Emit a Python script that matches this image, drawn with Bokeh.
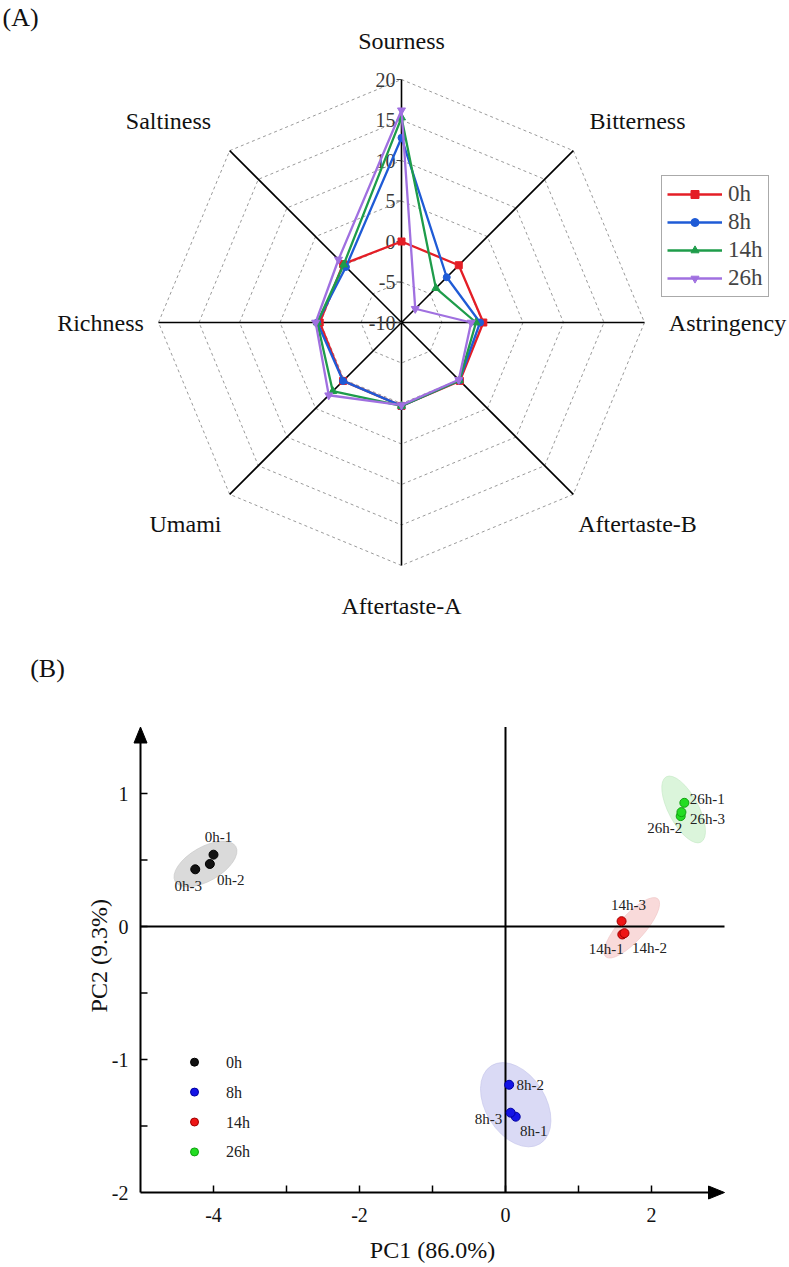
import numpy as np
from bokeh.plotting import figure
from bokeh.models import Range1d, ColumnDataSource
from bokeh.layouts import column
from bokeh.core.properties import value
from bokeh.embed import file_html
from bokeh.resources import INLINE

# ---------------- (A) electronic-tongue radar data ----------------
attributes = ["Sourness", "Bitterness", "Astringency", "Aftertaste-B",
              "Aftertaste-A", "Umami", "Richness", "Saltiness"]
hours = ["0h", "8h", "14h", "26h"]
taste_0h = [0.0, 0.0, 0.1, 0.2, 0.3, 0.2, 0.1, 0.2]
taste_8h = [12.8, -2.1, -0.3, 0.1, 0.3, 0.2, 0.4, -0.3]
taste_14h = [15.3, -4.0, -0.8, 0.1, 0.3, 2.0, 0.4, 0.1]
taste_26h = [16.2, -7.6, -1.4, 0.0, 0.2, 2.7, 0.6, 1.0]
radial_ticks = [-10, -5, 0, 5, 10, 15, 20]

# ---------------- (B) PCA data ----------------
pca_labels = ["0h-1", "0h-2", "0h-3", "8h-1", "8h-2", "8h-3",
              "14h-1", "14h-2", "14h-3", "26h-1", "26h-2", "26h-3"]
pca_group = ["0h"] * 3 + ["8h"] * 3 + ["14h"] * 3 + ["26h"] * 3
pc1 = [-4.00, -4.05, -4.25, 0.14, 0.05, 0.07, 1.60, 1.63, 1.59, 2.45, 2.40, 2.41]
pc2 = [0.54, 0.47, 0.43, -1.43, -1.19, -1.40, -0.06, -0.05, 0.04, 0.93, 0.83, 0.86]
ellipse_pc1 = [-4.11, 0.14, 1.73, 2.44]
ellipse_pc2 = [0.47, -1.34, -0.01, 0.88]
ellipse_major_px = [70, 92, 78, 74]
ellipse_minor_px = [34, 60, 26, 30]
ellipse_angle_deg = [30, -58, 48, -62]
x_ticks = [-4, -3, -2, -1, 0, 1, 2]
x_tick_labels = ["-4", "-2", "0", "2"]
x_tick_label_pos = [-4, -2, 0, 2]
y_ticks = [1, 0.5, 0, -0.5, -1, -1.5]
y_tick_labels = ["1", "0", "-1", "-2"]
y_tick_label_pos = [1, 0, -1, -2]
x_title = "PC1 (86.0%)"
y_title = "PC2 (9.3%)"

FONT = "Liberation Serif"
W = 789
H1 = 628
H2 = 639

# ======================= (A) radar =======================
PX = 8.1          # pixels per radial unit
CX, CY = 401, 322  # centre of radar (figure px)

p1 = figure(width=W, height=H1, output_backend="svg", toolbar_location=None,
            x_range=Range1d(-CX / PX, (W - CX) / PX),
            y_range=Range1d(-(H1 - CY) / PX, CY / PX),
            x_axis_type=None, y_axis_type=None, min_border=0,
            outline_line_color=None, background_fill_color="white",
            border_fill_color="white")

theta = np.deg2rad(np.arange(len(attributes)) * 45.0)
r0 = radial_ticks[0]
rmax = radial_ticks[-1] - r0

ring_xs, ring_ys = [], []
for t in radial_ticks[1:]:
    r = t - r0
    ring_xs.append(list(r * np.sin(theta)) + [0.0])
    ring_ys.append(list(r * np.cos(theta)) + [r])
p1.multi_line(xs=ring_xs, ys=ring_ys, line_color="#9a9a9a", line_dash="3 3",
              line_width=1)

p1.segment(x0=np.zeros(8), y0=np.zeros(8), x1=rmax * np.sin(theta),
           y1=rmax * np.cos(theta), line_color="black", line_width=1.6)

# radial tick labels
tick_r = [t - r0 for t in radial_ticks]
p1.segment(x0=[-5 / PX] * len(tick_r), y0=tick_r, x1=[0] * len(tick_r), y1=tick_r,
           line_color="#444444", line_width=1)
p1.text(x=[-6 / PX] * len(tick_r), y=tick_r, text=[str(t) for t in radial_ticks],
        text_font=value(FONT), text_font_size="20px", text_align="right",
        text_baseline="middle", text_color="#3a3a3a")

# attribute labels (layout offsets in px from centre)
lab_dx = [0, 236, 326, 236, 0, -216, -301, -233]
lab_dy = [282, 202, 0, -201, -283, -201, 0, 202]
p1.text(x=[d / PX for d in lab_dx], y=[d / PX for d in lab_dy], text=attributes,
        text_font=value(FONT), text_font_size="24px", text_align="center",
        text_baseline="middle", text_color="#111111")

colors = ["#E41E26", "#1F5BD6", "#1E9C4A", "#A070E0"]
markers = ["square", "circle", "triangle", "inverted_triangle"]
msizes = [7, 7, 8, 8]
series = [taste_0h, taste_8h, taste_14h, taste_26h]
for h, vals, c, m, s in zip(hours, series, colors, markers, msizes):
    r = np.array(vals) - r0
    xs = r * np.sin(theta)
    ys = r * np.cos(theta)
    p1.line(x=list(xs) + [xs[0]], y=list(ys) + [ys[0]], line_color=c,
            line_width=2.3, legend_label=h)
    p1.scatter(x=xs, y=ys, marker=m, size=s, fill_color=c, line_color=c,
               legend_label=h)

lg = p1.legend[0]
lg.location = (661, H1 - 297)
lg.label_text_font = FONT
lg.label_text_font_size = "23px"
lg.border_line_color = "#555555"
lg.border_line_width = 1
lg.padding = 5
lg.spacing = 2
lg.glyph_width = 55
lg.glyph_height = 20
lg.label_height = 20
lg.label_standoff = 6
lg.margin = 0
lg.background_fill_alpha = 1.0

p1.text(x=[(2 - CX) / PX], y=[(CY - 17) / PX], text=["(A)"], text_font=value(FONT),
        text_font_size="26px", text_align="left", text_baseline="middle",
        text_color="#111111")

# ======================= (B) PCA =======================
X0, XS = 505, 73.0   # fig px of PC1=0, px per unit
Y0, YS = 298, 133.0  # fig px of PC2=0, px per unit

p2 = figure(width=W, height=H2, output_backend="svg", toolbar_location=None,
            x_range=Range1d(-X0 / XS, (W - X0) / XS),
            y_range=Range1d(-(H2 - Y0) / YS, Y0 / YS),
            x_axis_type=None, y_axis_type=None, min_border=0,
            outline_line_color=None, background_fill_color="white",
            border_fill_color="white")

ell_fill = ["#d4d4d4", "#d3d3f3", "#f8d3d3", "#d5f3d5"]
ell_line = ["#c4c4c4", "#c3c3ea", "#efc3c3", "#c3e8c3"]
p2.ellipse(x=ellipse_pc1, y=ellipse_pc2, width=ellipse_major_px,
           height=ellipse_minor_px, width_units="screen", height_units="screen",
           angle=list(np.deg2rad(ellipse_angle_deg)), fill_color=ell_fill,
           fill_alpha=0.85, line_color=ell_line, line_alpha=0.6, line_width=1)

xmin, xmax = -5.0, 3.0
ymin, ymax = -2.0, 1.5
ah_len_y, ah_half_y = 16 / YS, 6.5 / XS
ah_len_x, ah_half_x = 16 / XS, 6.5 / YS
p2.segment(x0=[xmin, xmin, 0, xmin], y0=[ymin, ymin, ymin, 0],
           x1=[xmin, xmax - ah_len_x * 0.6, 0, xmax], y1=[ymax - ah_len_y * 0.6, ymin, ymax, 0],
           line_color="black", line_width=2)
p2.patches(xs=[[xmin - ah_half_y, xmin, xmin + ah_half_y],
               [xmax - ah_len_x, xmax, xmax - ah_len_x]],
           ys=[[ymax - ah_len_y, ymax, ymax - ah_len_y],
               [ymin + ah_half_x, ymin, ymin - ah_half_x]],
           fill_color="black", line_color="black")

# ticks
tl = 7
p2.segment(x0=x_ticks, y0=[ymin] * len(x_ticks), x1=x_ticks,
           y1=[ymin + tl / YS] * len(x_ticks), line_color="black", line_width=1.5)
p2.segment(x0=[xmin] * len(y_ticks), y0=y_ticks, x1=[xmin + tl / XS] * len(y_ticks),
           y1=y_ticks, line_color="black", line_width=1.5)
p2.text(x=x_tick_label_pos, y=[ymin] * len(x_tick_label_pos), text=x_tick_labels,
        y_offset=22, text_font=value(FONT), text_font_size="20px",
        text_align="center", text_baseline="middle", text_color="#111111")
p2.text(x=[xmin] * len(y_tick_label_pos), y=y_tick_label_pos, text=y_tick_labels,
        x_offset=-12, text_font=value(FONT), text_font_size="20px",
        text_align="right", text_baseline="middle", text_color="#111111")
p2.text(x=[(xmin + xmax) / 2], y=[ymin], text=[x_title], y_offset=57,
        text_font=value(FONT), text_font_size="24px", text_align="center",
        text_baseline="middle", text_color="#111111")
p2.text(x=[xmin], y=[-0.22], text=[y_title], x_offset=-42, angle=np.pi / 2,
        text_font=value(FONT), text_font_size="24px", text_align="center",
        text_baseline="middle", text_color="#111111")

group_color = {"0h": "#111111", "8h": "#1414e6", "14h": "#ee1515", "26h": "#22dd22"}
group_edge = {"0h": "#000000", "8h": "#0000a0", "14h": "#a00000", "26h": "#10a010"}
pts = ColumnDataSource(dict(
    x=pc1, y=pc2, label=pca_labels,
    color=[group_color[g] for g in pca_group],
    edge=[group_edge[g] for g in pca_group],
    dx=[5, 21, -7, 18, 21, -22, -16, 25, 7, 23, -16, 26],
    dy=[-18, 16, 17, 14, 0, 6, 15, 15, -16, -4, 12, 7],
))
p2.scatter(x="x", y="y", source=pts, size=9, fill_color="color", line_color="edge",
           line_width=1)
p2.text(x="x", y="y", text="label", x_offset="dx", y_offset="dy", source=pts,
        text_font=value(FONT), text_font_size="15px", text_align="center",
        text_baseline="middle", text_color="#222222")

# group legend (manual)
leg_y = [-1.02 - 0.225 * i for i in range(len(hours))]
p2.scatter(x=[-4.26] * len(hours), y=leg_y, size=8,
           fill_color=[group_color[h] for h in hours],
           line_color=[group_edge[h] for h in hours])
p2.text(x=[-3.83] * len(hours), y=leg_y, text=hours, text_font=value(FONT),
        text_font_size="16px", text_align="left", text_baseline="middle",
        text_color="#222222")

p2.text(x=[(47 - X0) / XS], y=[(Y0 - 40) / YS], text=["(B)"], text_font=value(FONT),
        text_font_size="26px", text_align="center", text_baseline="middle",
        text_color="#111111")

layout = column(p1, p2)
open("out.html", "w").write(file_html(layout, INLINE))
